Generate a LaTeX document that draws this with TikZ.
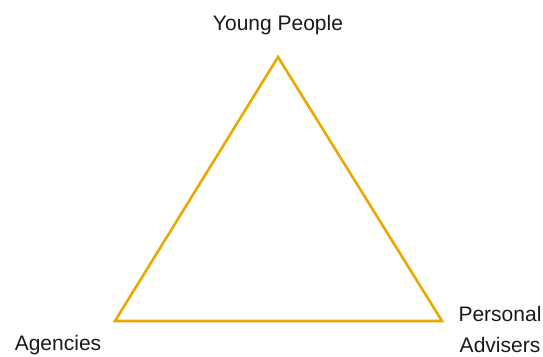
\documentclass[tikz,border=0pt]{standalone}
\usepackage{fontspec}
\setmainfont{Liberation Sans}
\definecolor{tri}{RGB}{237,168,0}
\begin{document}
\begin{tikzpicture}[x=1pt,y=-1pt,
  lbl/.style={font=\fontsize{21}{31}\selectfont, text=black!90, inner sep=0pt, align=center},
  edge/.style={draw=tri, line width=2.6pt, line join=miter}]
\useasboundingbox (0,0) rectangle (543,356);
\coordinate (top) at (278,57);
\coordinate (bl) at (115,321);
\coordinate (br) at (442,321);
\draw[edge] (top) -- (bl) -- (br) -- cycle;
\node[lbl] (yp) at (278,25) {Young People};
\node[lbl] (ag) at (58,345) {Agencies};
\node[lbl] (pa) at (500,329.5) {Personal\\Advisers};
\end{tikzpicture}
\end{document}
